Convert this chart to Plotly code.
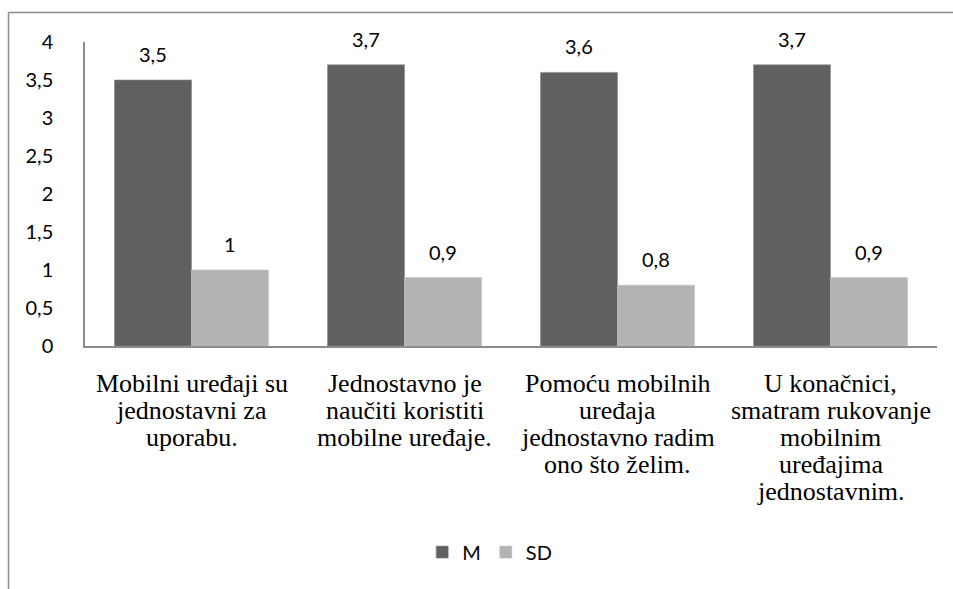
import plotly.graph_objects as go

categories = [
    "Mobilni uređaji su<br>jednostavni za<br>uporabu.",
    "Jednostavno je<br>naučiti koristiti<br>mobilne uređaje.",
    "Pomoću mobilnih<br>uređaja<br>jednostavno radim<br>ono što želim.",
    "U konačnici,<br>smatram rukovanje<br>mobilnim<br>uređajima<br>jednostavnim.",
]
m_values = [3.5, 3.7, 3.6, 3.7]
sd_values = [1, 0.9, 0.8, 0.9]
y_ticks = [0, 0.5, 1, 1.5, 2, 2.5, 3, 3.5, 4]

W, H = 953, 589
ML, MR, MT, MB = 85, 16, 42, 243
SANS = "Lato, Open Sans, sans-serif"
SERIF = "Liberation Serif, Times New Roman, serif"

fig = go.Figure()
fig.add_trace(go.Bar(name="M", x=categories, y=m_values,
                     marker=dict(color="#606060", line=dict(color="#8a8a8a", width=0.6))))
fig.add_trace(go.Bar(name="SD", x=categories, y=sd_values,
                     marker=dict(color="#b3b3b3", line=dict(color="#c4c4c4", width=0.6))))


def fmt(v):
    return ("%g" % v).replace(".", ",")


for series, shift in ((m_values, -38.5), (sd_values, 38.5)):
    for c, v in zip(categories, series):
        fig.add_annotation(x=c, y=v, text=fmt(v), showarrow=False,
                           xshift=shift, yshift=12, yanchor="bottom",
                           font=dict(family=SANS, size=20, color="#000"))

# category labels, one line at a time (tight Word-like line spacing)
for c in categories:
    for i, line in enumerate(c.split("<br>")):
        fig.add_annotation(x=c, y=0, text=line, showarrow=False, yanchor="middle",
                           yshift=-(37 + 27 * i),
                           font=dict(family=SERIF, size=26, color="#000"))

pw = W - ML - MR
ph = H - MT - MB
x0 = (8.5 - ML) / pw
y_top = 1 + (MT - 12.5) / ph
y_bot = -(MB + 10) / ph
fig.add_shape(type="line", xref="paper", yref="paper", x0=x0, x1=1 + (MR + 10) / pw,
              y0=y_top, y1=y_top, line=dict(color="#8c8c8c", width=1.5))
fig.add_shape(type="line", xref="paper", yref="paper", x0=x0, x1=x0,
              y0=y_top, y1=y_bot, line=dict(color="#8c8c8c", width=1.5))

fig.update_layout(
    width=W, height=H,
    margin=dict(l=ML, r=MR, t=MT, b=MB),
    paper_bgcolor="white", plot_bgcolor="white",
    separators=",.",
    barmode="group", bargap=0.277, bargroupgap=0,
    showlegend=True,
    legend=dict(orientation="h", x=0.475, xanchor="center", y=-0.678, yanchor="middle",
                font=dict(family=SANS, size=20, color="#000"),
                itemwidth=30, traceorder="normal"),
    xaxis=dict(showline=True, linecolor="#8c8c8c", linewidth=1.5, ticks="",
               showticklabels=False, showgrid=False),
    yaxis=dict(range=[0, 4], tickvals=y_ticks, showline=True, linecolor="#8c8c8c", linewidth=1.5,
               showgrid=False, zeroline=False, ticks="", ticklabelstandoff=26,
               tickfont=dict(family=SANS, size=20, color="#000")),
)

fig.write_html("out.html", config={"displayModeBar": False},
               post_script="document.body.style.margin='0';")
